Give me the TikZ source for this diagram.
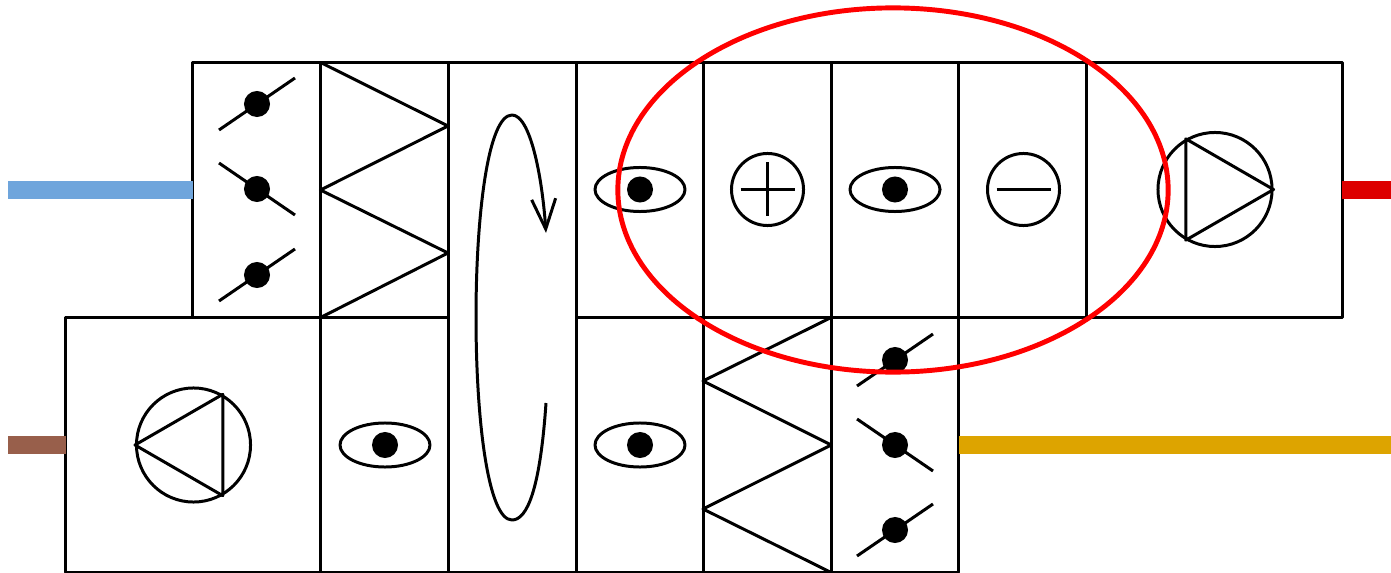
\documentclass[tikz,border=0pt]{standalone}
\usepackage{tikz}
\usetikzlibrary{shapes.geometric,arrows.meta}

\begin{document}
\begin{tikzpicture}[x=0.01cm, y=-0.01cm, line width=0.85pt, line join=round,
	cell/.style={draw, rectangle, minimum height=2.55cm, inner sep=0pt, outer sep=0pt},
	eye/.style={draw, ellipse, minimum width=0.9cm, minimum height=0.44cm, inner sep=0pt},
	dot/.style={circle, fill=black, minimum size=0.26cm, inner sep=0pt},
	coil/.style={draw, circle, minimum size=0.72cm, inner sep=0pt},
	fan/.style={draw, circle, minimum size=1.14cm, inner sep=0pt},
	duct/.style={line width=0.18cm}]
	\useasboundingbox (0,0) rectangle (1391,573);
	\definecolor{ductblue}{HTML}{6FA5DC}
	\definecolor{ductbrown}{HTML}{985F4B}
	\definecolor{ductred}{HTML}{DD0000}
	\definecolor{ductgold}{HTML}{DDA400}
	% connections sit behind the cells
	\coordinate (outdoor) at (8,190); \coordinate (extract) at (8,445); \coordinate (supply) at (1391,190); \coordinate (exhaust) at (1391,445);
	% supply row
	\foreach \n/\x/\w in {supDamper/256.75/1.275, supFilter/384.25/1.275, supEyeA/640/1.275, heater/767.5/1.275, supEyeB/895/1.275, cooler/1022.5/1.275, supFan/1214.5/2.55} {\node[cell, minimum width=\w cm] (\n) at (\x,190) {};}
	% return row
	\foreach \n/\x/\w in {retFan/193.25/2.55, retEyeA/384.25/1.275, retEyeB/640/1.275, retFilter/767.5/1.275, retDamper/895/1.275} {\node[cell, minimum width=\w cm] (\n) at (\x,445) {};}
	% wheel spans both rows
	\node[cell, minimum width=1.275cm, minimum height=5.1cm] (wheel) at (512.75,317.5) {};
	\draw[duct, ductblue] (outdoor) -- (supDamper.west);
	\draw[duct, ductbrown] (extract) -- (retFan.west);
	\draw[duct, ductred] (supFan.east) -- (supply);
	\draw[duct, ductgold] (retDamper.east) -- (exhaust);
	% dampers
	\foreach \n/\x/\y/\s in {dA/257/104/1, dB/257/189/-1, dC/257/275/1, dD/895/360/1, dE/895/445/-1, dF/895/530/1} {
		\node[dot] (\n) at (\x,\y) {};
		\draw (\n) ++(-38,26*\s) -- ++(76,-52*\s);
	}
	% filters
	\draw (supFilter.north west) -- (448,126) -- (supFilter.west) -- (448,253) -- (supFilter.south west);
	\draw (retFilter.north east) -- (703,381) -- (retFilter.east) -- (703,509) -- (retFilter.south east);
	% wheel
	\draw[-{Straight Barb[length=0.3cm, width=0.24cm]}] (546,403) .. controls (540,490) and (527,520) .. (512,520) .. controls (488,520) and (476,420) .. (476,317) .. controls (476,215) and (488,115) .. (512,115) .. controls (530,115) and (542,175) .. (546,233);
	% sensors
	\foreach \n/\x/\y in {eA/640/189.5, eB/895/189.5, eC/385/445, eD/640/445} {
		\node[eye] (\n) at (\x,\y) {};
		\node[dot] (\n dot) at (\x,\y) {};
	}
	% coils
	\node[coil] (plus) at (767.5,189.5) {};
	\draw (plus.center) ++(-27,0) -- ++(54,0) (plus.center) ++(0,-27) -- ++(0,54);
	\node[coil] (minus) at (1023.5,189.5) {};
	\draw (minus.center) ++(-27,0) -- ++(54,0);
	% fans
	\node[fan] (fanS) at (1215,189.5) {};
	\draw (fanS.0) -- (fanS.120) -- (fanS.240) -- cycle;
	\node[fan] (fanR) at (193.5,445) {};
	\draw (fanR.180) -- (fanR.60) -- (fanR.300) -- cycle;
	% highlight
	\node[draw=red, ellipse, line width=1.4pt, minimum width=5.5cm, minimum height=3.64cm, inner sep=0pt] (ring) at (893,190) {};
\end{tikzpicture}
\end{document}
